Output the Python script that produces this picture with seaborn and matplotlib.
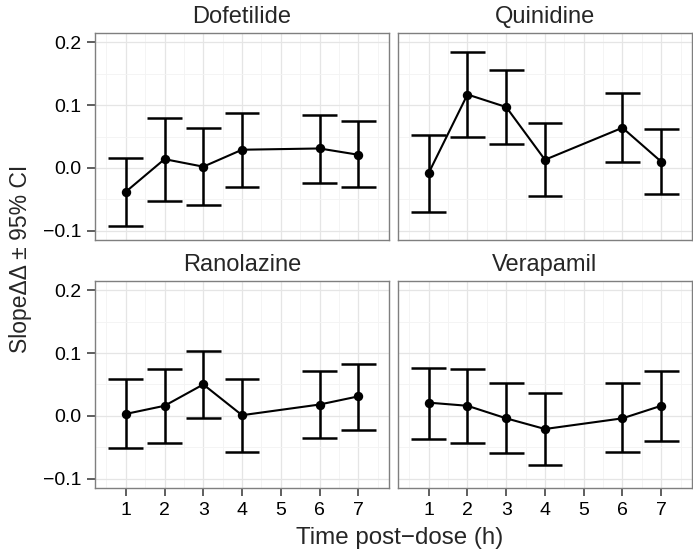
import numpy as np
import pandas as pd
import matplotlib
matplotlib.use("Agg")
import matplotlib.pyplot as plt
from matplotlib.ticker import MultipleLocator, FixedLocator
import seaborn as sns

# Post-dose time points (hours)
times = [1, 2, 3, 4, 6, 7]
drugs = ["Dofetilide", "Quinidine", "Ranolazine", "Verapamil"]

# Slope estimates with 95% confidence limits per drug
dofetilide_est = [-0.038, 0.014, 0.002, 0.029, 0.031, 0.021]
dofetilide_lo = [-0.092, -0.053, -0.059, -0.030, -0.024, -0.031]
dofetilide_hi = [0.016, 0.079, 0.064, 0.087, 0.084, 0.075]

quinidine_est = [-0.008, 0.117, 0.097, 0.013, 0.064, 0.010]
quinidine_lo = [-0.071, 0.049, 0.038, -0.044, 0.009, -0.042]
quinidine_hi = [0.053, 0.185, 0.156, 0.071, 0.120, 0.062]

ranolazine_est = [0.003, 0.016, 0.050, 0.001, 0.018, 0.031]
ranolazine_lo = [-0.052, -0.043, -0.003, -0.057, -0.035, -0.023]
ranolazine_hi = [0.058, 0.075, 0.104, 0.058, 0.071, 0.083]

verapamil_est = [0.021, 0.016, -0.004, -0.021, -0.004, 0.016]
verapamil_lo = [-0.037, -0.043, -0.059, -0.078, -0.058, -0.040]
verapamil_hi = [0.077, 0.075, 0.052, 0.037, 0.052, 0.071]

x_ticks = [1, 2, 3, 4, 5, 6, 7]
y_ticks = [-0.1, 0.0, 0.1, 0.2]

series = {
    "Dofetilide": (dofetilide_est, dofetilide_lo, dofetilide_hi),
    "Quinidine": (quinidine_est, quinidine_lo, quinidine_hi),
    "Ranolazine": (ranolazine_est, ranolazine_lo, ranolazine_hi),
    "Verapamil": (verapamil_est, verapamil_lo, verapamil_hi),
}
rows = []
for drug in drugs:
    est, lo, hi = series[drug]
    for t, e, l, h in zip(times, est, lo, hi):
        rows.append({"drug": drug, "time": t, "est": e, "lo": l, "hi": h})
df = pd.DataFrame(rows)

sns.set_style("white")
plt.rcParams["font.family"] = ["Liberation Sans", "DejaVu Sans"]
plt.rcParams["axes.unicode_minus"] = True

g = sns.FacetGrid(df, col="drug", col_wrap=2, col_order=drugs,
                  sharex=True, sharey=True, despine=False,
                  height=2.7, aspect=1.2)


def draw_panel(data, **kws):
    ax = plt.gca()
    cap = 0.45
    ax.vlines(data["time"], data["lo"], data["hi"], color="black",
              lw=1.8, zorder=3)
    ax.hlines(data["lo"], data["time"] - cap, data["time"] + cap,
              color="black", lw=1.8, zorder=3)
    ax.hlines(data["hi"], data["time"] - cap, data["time"] + cap,
              color="black", lw=1.8, zorder=3)
    sns.lineplot(data=data, x="time", y="est", ax=ax, color="black",
                 lw=1.5, zorder=4, estimator=None, sort=True)
    sns.scatterplot(data=data, x="time", y="est", ax=ax, color="black",
                    s=46, edgecolor="black", linewidth=0, zorder=5)


g.map_dataframe(draw_panel)
g.set_titles("{col_name}", size=17, pad=7)

fig = g.figure
fig.set_size_inches(6.93, 5.52)
fig.subplots_adjust(left=95 / 693, right=692 / 693,
                    bottom=1 - 488 / 552, top=1 - 33 / 552,
                    wspace=0.03, hspace=0.197)

axes = g.axes.flatten()
for i, ax in enumerate(axes):
    ax.set_xlim(0.205, 7.795)
    ax.set_ylim(-0.115, 0.215)
    ax.xaxis.set_major_locator(FixedLocator(x_ticks))
    ax.yaxis.set_major_locator(FixedLocator(y_ticks))
    ax.xaxis.set_minor_locator(MultipleLocator(0.5))
    ax.yaxis.set_minor_locator(FixedLocator([-0.05, 0.05, 0.15]))
    ax.grid(True, which="major", color="#E5E5E5", lw=0.9, zorder=0)
    ax.grid(True, which="minor", color="#F3F3F3", lw=0.6, zorder=0)
    ax.set_axisbelow(True)
    for s in ax.spines.values():
        s.set_color("#7F7F7F")
        s.set_linewidth(1.0)
    ax.tick_params(which="minor", length=0)
    ax.tick_params(which="major", length=5.5, width=1.1, color="#333333",
                   labelsize=14, labelcolor="black", pad=4.5)
    ax.set_xlabel("")
    ax.set_ylabel("")
    ax.yaxis.set_major_formatter(plt.FuncFormatter(
        lambda v, p: f"{v:.1f}".replace("-", "\u2212")))
    bottom = i >= 2
    left = i % 2 == 0
    ax.tick_params(axis="x", bottom=bottom, labelbottom=bottom)
    ax.tick_params(axis="y", left=left, labelleft=left)

fig.text(399.5 / 693, 8 / 552, "Time post\u2212dose (h)", ha="center",
         va="baseline", fontsize=17.4)
fig.text(21 / 693, 1 - 259 / 552, "Slope\u0394\u0394 \u00b1 95% CI",
         ha="center", va="center", rotation=90, fontsize=16.5)

fig.savefig("out.png", dpi=100, facecolor="white")
